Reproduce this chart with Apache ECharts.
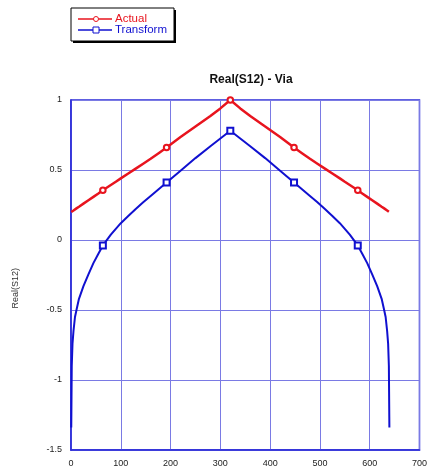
<!DOCTYPE html>
<html>
<head>
<meta charset="utf-8">
<script src="https://cdn.jsdelivr.net/npm/echarts@6/dist/echarts.min.js"></script>
<style>
  html, body { margin: 0; padding: 0; background: #fff; }
  #chart { width: 430px; height: 469px; }
</style>
</head>
<body>
<div id="chart"></div>
<script>
// Real(S12) of a via: measured response vs. transformed response
const freqX = [0.5, 1.5, 3, 5, 8, 11, 16, 25, 35, 45, 55, 64, 70, 80, 90, 100, 115, 130, 145, 160, 176, 192, 220, 250, 280, 300, 320,
  340, 360, 390, 420, 448, 464, 480, 495, 510, 525, 540, 550, 560, 570, 576, 585, 595, 605, 615, 624, 629, 632, 635, 637, 638.5, 639.5];
const actualY = [0.2, 0.202, 0.206, 0.211, 0.218, 0.226, 0.238, 0.26, 0.284, 0.308, 0.332, 0.355, 0.37, 0.393, 0.416, 0.44, 0.475, 0.51, 0.545, 0.58, 0.62, 0.66, 0.735, 0.81, 0.885, 0.94, 1.0,
  0.94, 0.885, 0.81, 0.735, 0.66, 0.62, 0.58, 0.545, 0.51, 0.475, 0.44, 0.416, 0.393, 0.37, 0.355, 0.332, 0.308, 0.284, 0.26, 0.238, 0.226, 0.218, 0.211, 0.206, 0.202, 0.2];
const transformY = [-1.34, -0.9, -0.74, -0.65, -0.55, -0.5, -0.42, -0.33, -0.245, -0.165, -0.098, -0.04, -0.01, 0.038, 0.08, 0.12, 0.172, 0.222, 0.27, 0.315, 0.363, 0.41, 0.495, 0.585, 0.67, 0.725, 0.78,
  0.725, 0.67, 0.585, 0.495, 0.41, 0.363, 0.315, 0.27, 0.222, 0.172, 0.12, 0.08, 0.038, -0.01, -0.04, -0.098, -0.165, -0.245, -0.33, -0.42, -0.5, -0.55, -0.65, -0.74, -0.9, -1.34];
const markerX = [64, 192, 320, 448, 576];
const xTicks = [0, 100, 200, 300, 400, 500, 600, 700];
const yTicks = [-1.5, -1, -0.5, 0, 0.5, 1];

const RED = '#e8141e';
const BLUE = '#1010d0';
const FRAME = '#2a2ad8';
const GRIDLINE = '#7a7ae4';

const pairs = (xs, ys) => xs.map((x, i) => [x, ys[i]]);
const markerSymbol = (shape) => (value) => markerX.includes(value[0]) ? shape : 'none';

const chart = echarts.init(document.getElementById('chart'), null, { renderer: 'canvas' });

chart.setOption({
  animation: false,
  backgroundColor: '#fff',
  title: {
    text: 'Real(S12) - Via',
    left: 246, top: 69,
    textAlign: 'center',
    textStyle: { fontFamily: 'Liberation Sans, Arial', fontSize: 12, fontWeight: 'bold', color: '#111' }
  },
  grid: {
    left: 71, right: 9, top: 100, bottom: 19,
    show: true, borderColor: FRAME, borderWidth: 1.5, backgroundColor: 'transparent'
  },
  xAxis: {
    type: 'value', min: 0, max: 700, interval: 100,
    axisLine: { show: true, onZero: false, lineStyle: { color: FRAME, width: 1.5 } },
    axisTick: { show: false },
    splitLine: { show: true, lineStyle: { color: GRIDLINE, width: 1 } },
    axisLabel: {
      color: '#222', fontFamily: 'Liberation Sans, Arial', fontSize: 9, margin: 9,
      formatter: (v) => xTicks.includes(v) ? String(v) : ''
    }
  },
  yAxis: {
    type: 'value', min: -1.5, max: 1, interval: 0.5,
    axisLine: { show: true, onZero: false, lineStyle: { color: FRAME, width: 1.5 } },
    axisTick: { show: false },
    splitLine: { show: true, lineStyle: { color: GRIDLINE, width: 1 } },
    axisLabel: {
      color: '#222', fontFamily: 'Liberation Sans, Arial', fontSize: 9, margin: 9,
      formatter: (v) => yTicks.includes(v) ? String(v) : ''
    }
  },
  graphic: [
    {
      type: 'text', left: 11, top: 268, rotation: Math.PI / 2,
      style: { text: 'Real(S12)', fill: '#333', font: '9px Liberation Sans, Arial' }
    },
    // legend box with drop shadow
    { type: 'rect', shape: { x: 73, y: 10, width: 103, height: 33 }, style: { fill: '#000' } },
    { type: 'rect', shape: { x: 71, y: 8, width: 103, height: 33 }, style: { fill: '#fff', stroke: '#000', lineWidth: 1 } },
    { type: 'line', shape: { x1: 78, y1: 19, x2: 112, y2: 19 }, style: { stroke: RED, lineWidth: 1.5 } },
    { type: 'circle', shape: { cx: 96, cy: 19, r: 2.5 }, style: { fill: '#fff', stroke: RED, lineWidth: 1 } },
    { type: 'text', left: 115, top: 13, style: { text: 'Actual', fill: RED, font: '11.5px Liberation Sans, Arial' } },
    { type: 'line', shape: { x1: 78, y1: 30, x2: 112, y2: 30 }, style: { stroke: BLUE, lineWidth: 1.5 } },
    { type: 'rect', shape: { x: 93, y: 27, width: 6, height: 6 }, style: { fill: '#fff', stroke: BLUE, lineWidth: 1 } },
    { type: 'text', left: 115, top: 24, style: { text: 'Transform', fill: BLUE, font: '11.5px Liberation Sans, Arial' } }
  ],
  series: [
    {
      name: 'Transform', type: 'line',
      data: pairs(freqX, transformY),
      showAllSymbol: true,
      symbol: markerSymbol('emptyRect'), symbolSize: 6,
      lineStyle: { color: BLUE, width: 2 },
      itemStyle: { color: BLUE, borderColor: BLUE, borderWidth: 0.8 },
      z: 3
    },
    {
      name: 'Actual', type: 'line',
      data: pairs(freqX, actualY),
      showAllSymbol: true,
      symbol: markerSymbol('emptyCircle'), symbolSize: 5.5,
      lineStyle: { color: RED, width: 2.5 },
      itemStyle: { color: RED, borderColor: RED, borderWidth: 0.8 },
      z: 4
    }
  ]
});
</script>
</body>
</html>
